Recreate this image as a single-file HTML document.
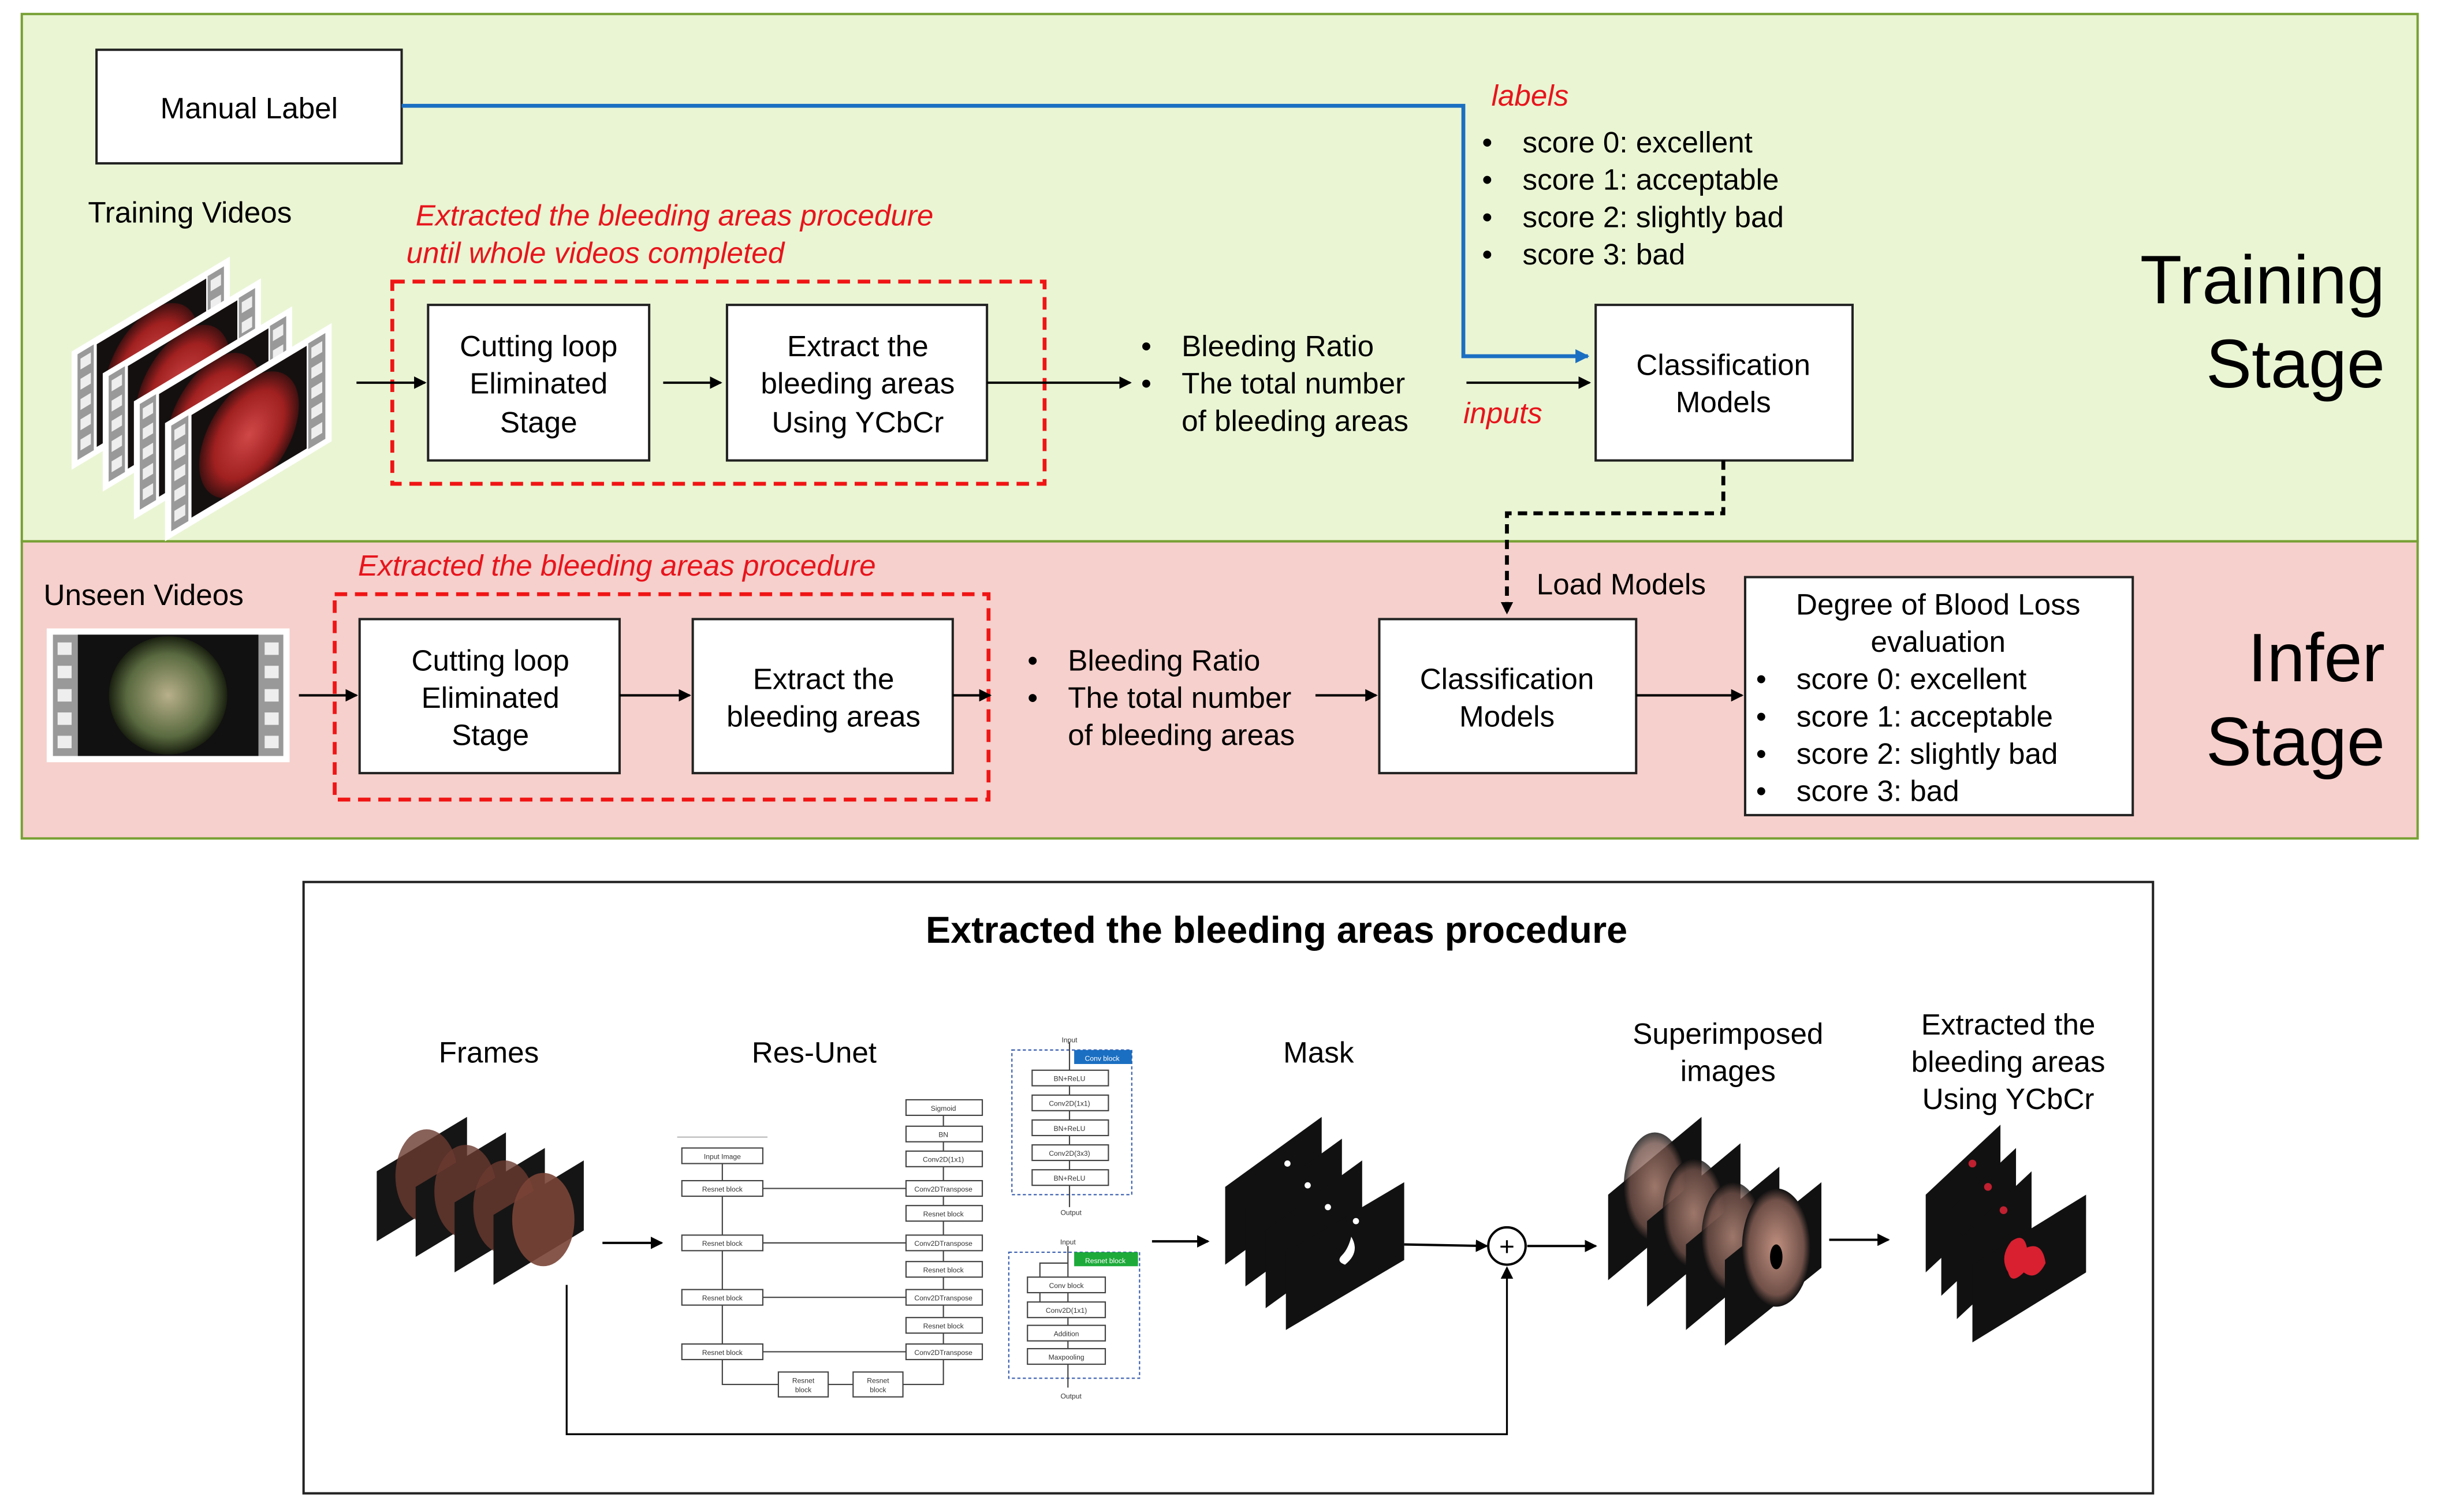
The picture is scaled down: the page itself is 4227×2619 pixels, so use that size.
<!DOCTYPE html>
<html><head><meta charset="utf-8">
<style>
html,body{margin:0;padding:0;background:#fff;}
svg{display:block;}
text{font-family:"Liberation Sans",sans-serif;}
</style></head>
<body>
<svg width="4227" height="2619" viewBox="0 0 1568 972" preserveAspectRatio="none" xmlns="http://www.w3.org/2000/svg">
<defs>
<marker id="ah" markerWidth="8" markerHeight="8" refX="7" refY="4" orient="auto" markerUnits="userSpaceOnUse"><path d="M0,0 L8,4 L0,8 z" fill="#000"/></marker>
<marker id="ahb" markerWidth="9" markerHeight="9" refX="8" refY="4.5" orient="auto" markerUnits="userSpaceOnUse"><path d="M0,0 L9,4.5 L0,9 z" fill="#1a6fc2"/></marker>
<radialGradient id="endo" cx="0.5" cy="0.5" r="0.5"><stop offset="0" stop-color="#d04848"/><stop offset="0.7" stop-color="#a02020"/><stop offset="1" stop-color="#401010"/></radialGradient>
<radialGradient id="endo2" cx="0.5" cy="0.5" r="0.5"><stop offset="0" stop-color="#b8b08a"/><stop offset="0.7" stop-color="#5a6a40"/><stop offset="1" stop-color="#1a2010"/></radialGradient>
<radialGradient id="sup" cx="0.5" cy="0.5" r="0.5"><stop offset="0" stop-color="#c09080"/><stop offset="0.8" stop-color="#705048"/><stop offset="1" stop-color="#111"/></radialGradient>
<clipPath id="vc"><rect x="17" y="5" width="74" height="66"/></clipPath>
<g id="vid">
<rect x="0" y="0" width="107" height="76" fill="#fff"/>
<rect x="4" y="4" width="11" height="68" fill="#999"/>
<rect x="92" y="4" width="11" height="68" fill="#999"/>
<g fill="#eee"><rect x="6" y="8" width="7" height="7"/><rect x="6" y="21" width="7" height="7"/><rect x="6" y="34" width="7" height="7"/><rect x="6" y="47" width="7" height="7"/><rect x="6" y="60" width="7" height="7"/>
<rect x="94" y="8" width="7" height="7"/><rect x="94" y="21" width="7" height="7"/><rect x="94" y="34" width="7" height="7"/><rect x="94" y="47" width="7" height="7"/><rect x="94" y="60" width="7" height="7"/></g>
<rect x="17" y="5" width="74" height="66" fill="#151010"/>
<g clip-path="url(#vc)"><ellipse cx="54" cy="40" rx="32" ry="36" fill="url(#endo)"/></g>
</g>
</defs>

<!-- panels -->
<rect x="14" y="9" width="1539" height="339" fill="#eaf5d4" stroke="#77a033" stroke-width="1.5"/>
<rect x="14" y="348" width="1539" height="191" fill="#f6d0cc" stroke="#77a033" stroke-width="1.5"/>

<!-- Training stage -->
<rect x="62" y="32" width="196" height="73" fill="#fff" stroke="#222" stroke-width="1.5"/>
<text x="160" y="76" font-size="19" text-anchor="middle">Manual Label</text>
<polyline points="258,68 940,68 940,229 1020,229" fill="none" stroke="#1a6fc2" stroke-width="2.5" marker-end="url(#ahb)"/>
<text x="958" y="68" font-size="19" fill="#e8141c" font-style="italic">labels</text>
<g font-size="19">
<text x="952" y="98">•</text><text x="978" y="98">score 0: excellent</text>
<text x="952" y="122">•</text><text x="978" y="122">score 1: acceptable</text>
<text x="952" y="146">•</text><text x="978" y="146">score 2: slightly bad</text>
<text x="952" y="170">•</text><text x="978" y="170">score 3: bad</text>
</g>
<text x="1532" y="195" font-size="44" text-anchor="end">Training</text>
<text x="1532" y="249" font-size="44" text-anchor="end">Stage</text>

<text x="122" y="143" font-size="19" text-anchor="middle">Training Videos</text>
<!-- training video stack -->
<use href="#vid" transform="translate(46,226) skewY(-31) scale(0.95,1)"/>
<use href="#vid" transform="translate(66,240) skewY(-31) scale(0.95,1)"/>
<use href="#vid" transform="translate(86,258) skewY(-31) scale(0.95,1)"/>
<use href="#vid" transform="translate(106,272) skewY(-31)"/>

<text x="267" y="145" font-size="19" fill="#e8141c" font-style="italic">Extracted the bleeding areas procedure</text>
<text x="261" y="169" font-size="19" fill="#e8141c" font-style="italic">until whole videos completed</text>
<rect x="252" y="181" width="419" height="130" fill="none" stroke="#f01515" stroke-width="2.5" stroke-dasharray="8,5"/>
<rect x="275" y="196" width="142" height="100" fill="#fff" stroke="#222" stroke-width="1.5"/>
<g font-size="19" text-anchor="middle"><text x="346" y="229">Cutting loop</text><text x="346" y="253">Eliminated</text><text x="346" y="278">Stage</text></g>
<rect x="467" y="196" width="167" height="100" fill="#fff" stroke="#222" stroke-width="1.5"/>
<g font-size="19" text-anchor="middle"><text x="551" y="229">Extract the</text><text x="551" y="253">bleeding areas</text><text x="551" y="278">Using YCbCr</text></g>
<line x1="229" y1="246" x2="273" y2="246" stroke="#000" stroke-width="1.5" marker-end="url(#ah)"/>
<line x1="426" y1="246" x2="463" y2="246" stroke="#000" stroke-width="1.5" marker-end="url(#ah)"/>
<line x1="634" y1="246" x2="726" y2="246" stroke="#000" stroke-width="1.5" marker-end="url(#ah)"/>
<g font-size="19"><text x="733" y="229">•</text><text x="759" y="229">Bleeding Ratio</text><text x="733" y="253">•</text><text x="759" y="253">The total number</text><text x="759" y="277">of bleeding areas</text></g>
<line x1="942" y1="246" x2="1021" y2="246" stroke="#000" stroke-width="1.5" marker-end="url(#ah)"/>
<text x="940" y="272" font-size="19" fill="#e8141c" font-style="italic">inputs</text>
<rect x="1025" y="196" width="165" height="100" fill="#fff" stroke="#222" stroke-width="1.5"/>
<g font-size="19" text-anchor="middle"><text x="1107" y="241">Classification</text><text x="1107" y="265">Models</text></g>
<polyline points="1107,296 1107,330 968,330 968,394" fill="none" stroke="#000" stroke-width="2.5" stroke-dasharray="6,4" marker-end="url(#ah)"/>

<!-- Infer stage -->
<text x="28" y="389" font-size="19">Unseen Videos</text>
<rect x="30" y="404" width="156" height="86" fill="#fff"/>
<rect x="34" y="408" width="148" height="78" fill="#999"/>
<rect x="50" y="408" width="116" height="78" fill="#111"/>
<g fill="#eee"><rect x="37" y="413" width="9" height="8"/><rect x="37" y="428" width="9" height="8"/><rect x="37" y="443" width="9" height="8"/><rect x="37" y="458" width="9" height="8"/><rect x="37" y="473" width="9" height="8"/><rect x="170" y="413" width="9" height="8"/><rect x="170" y="428" width="9" height="8"/><rect x="170" y="443" width="9" height="8"/><rect x="170" y="458" width="9" height="8"/><rect x="170" y="473" width="9" height="8"/></g>
<circle cx="108" cy="447" r="38" fill="url(#endo2)"/>
<text x="230" y="370" font-size="19" fill="#e8141c" font-style="italic">Extracted the bleeding areas procedure</text>
<rect x="215" y="382" width="420" height="132" fill="none" stroke="#f01515" stroke-width="2.5" stroke-dasharray="8,5"/>
<rect x="231" y="398" width="167" height="99" fill="#fff" stroke="#222" stroke-width="1.5"/>
<g font-size="19" text-anchor="middle"><text x="315" y="431">Cutting loop</text><text x="315" y="455">Eliminated</text><text x="315" y="479">Stage</text></g>
<rect x="445" y="398" width="167" height="99" fill="#fff" stroke="#222" stroke-width="1.5"/>
<g font-size="19" text-anchor="middle"><text x="529" y="443">Extract the</text><text x="529" y="467">bleeding areas</text></g>
<line x1="192" y1="447" x2="229" y2="447" stroke="#000" stroke-width="1.5" marker-end="url(#ah)"/>
<line x1="398" y1="447" x2="443" y2="447" stroke="#000" stroke-width="1.5" marker-end="url(#ah)"/>
<line x1="612" y1="447" x2="636" y2="447" stroke="#000" stroke-width="1.5" marker-end="url(#ah)"/>
<g font-size="19"><text x="660" y="431">•</text><text x="686" y="431">Bleeding Ratio</text><text x="660" y="455">•</text><text x="686" y="455">The total number</text><text x="686" y="479">of bleeding areas</text></g>
<line x1="845" y1="447" x2="884" y2="447" stroke="#000" stroke-width="1.5" marker-end="url(#ah)"/>
<text x="987" y="382" font-size="19">Load Models</text>
<rect x="886" y="398" width="165" height="99" fill="#fff" stroke="#222" stroke-width="1.5"/>
<g font-size="19" text-anchor="middle"><text x="968" y="443">Classification</text><text x="968" y="467">Models</text></g>
<line x1="1051" y1="447" x2="1119" y2="447" stroke="#000" stroke-width="1.5" marker-end="url(#ah)"/>
<rect x="1121" y="371" width="249" height="153" fill="#fff" stroke="#222" stroke-width="1.5"/>
<g font-size="19"><text x="1245" y="395" text-anchor="middle">Degree of Blood Loss</text><text x="1245" y="419" text-anchor="middle">evaluation</text>
<text x="1128" y="443">•</text><text x="1154" y="443">score 0: excellent</text>
<text x="1128" y="467">•</text><text x="1154" y="467">score 1: acceptable</text>
<text x="1128" y="491">•</text><text x="1154" y="491">score 2: slightly bad</text>
<text x="1128" y="515">•</text><text x="1154" y="515">score 3: bad</text></g>
<text x="1532" y="438" font-size="44" text-anchor="end">Infer</text>
<text x="1532" y="492" font-size="44" text-anchor="end">Stage</text>

<!-- Bottom panel -->
<rect x="195" y="567" width="1188" height="393" fill="#fff" stroke="#222" stroke-width="1.5"/>
<text x="820" y="606" font-size="24" font-weight="bold" text-anchor="middle">Extracted the bleeding areas procedure</text>
<g font-size="19" text-anchor="middle">
<text x="314" y="683">Frames</text><text x="523" y="683">Res-Unet</text><text x="847" y="683">Mask</text>
<text x="1110" y="671">Superimposed</text><text x="1110" y="695">images</text>
<text x="1290" y="665">Extracted the</text><text x="1290" y="689">bleeding areas</text><text x="1290" y="713">Using YCbCr</text>
</g>

<!-- Frames stack -->
<g>
<g transform="translate(242,718)"><polygon points="0,35 58,0 58,45 0,80" fill="#151515"/><ellipse cx="32" cy="38" rx="20" ry="30" fill="#6a3a30" opacity="0.8"/></g>
<g transform="translate(267,728)"><polygon points="0,35 58,0 58,45 0,80" fill="#151515"/><ellipse cx="32" cy="38" rx="20" ry="30" fill="#6a3a30" opacity="0.8"/></g>
<g transform="translate(292,738)"><polygon points="0,35 58,0 58,45 0,80" fill="#151515"/><ellipse cx="32" cy="38" rx="20" ry="30" fill="#6a3a30" opacity="0.8"/></g>
<g transform="translate(317,746)"><polygon points="0,35 58,0 58,45 0,80" fill="#151515"/><ellipse cx="32" cy="38" rx="20" ry="30" fill="#7a4436" opacity="0.9"/></g>
</g>
<line x1="387" y1="799" x2="425" y2="799" stroke="#000" stroke-width="1.5" marker-end="url(#ah)"/>

<!-- Res-Unet mini -->
<g stroke="#444" stroke-width="0.8" fill="#fff" font-size="4.5">
<line x1="435" y1="731" x2="493" y2="731" stroke="#bbb"/>
<line x1="464" y1="748" x2="464" y2="869"/>
<line x1="490" y1="764" x2="582" y2="764"/><line x1="490" y1="799" x2="582" y2="799"/><line x1="490" y1="834" x2="582" y2="834"/><line x1="490" y1="869" x2="582" y2="869"/>
<polyline points="464,874 464,890 500,890" fill="none"/><line x1="532" y1="890" x2="548" y2="890"/><polyline points="580,890 606,890 606,874" fill="none"/>
<line x1="606" y1="707" x2="606" y2="874"/>
<rect x="438" y="738" width="52" height="10"/><rect x="438" y="759" width="52" height="10"/><rect x="438" y="794" width="52" height="10"/><rect x="438" y="829" width="52" height="10"/><rect x="438" y="864" width="52" height="10"/>
<rect x="500" y="882" width="32" height="16"/><rect x="548" y="882" width="32" height="16"/>
<rect x="582" y="707" width="49" height="10"/><rect x="582" y="724" width="49" height="10"/><rect x="582" y="740" width="49" height="10"/><rect x="582" y="759" width="49" height="10"/><rect x="582" y="775" width="49" height="10"/><rect x="582" y="794" width="49" height="10"/><rect x="582" y="811" width="49" height="10"/><rect x="582" y="829" width="49" height="10"/><rect x="582" y="847" width="49" height="10"/><rect x="582" y="864" width="49" height="10"/>
<rect x="650" y="675" width="77" height="93" fill="none" stroke="#3a5fb0" stroke-dasharray="2,1.5"/>
<line x1="687" y1="670" x2="687" y2="776"/>
<rect x="663" y="688" width="49" height="10"/><rect x="663" y="704" width="49" height="10"/><rect x="663" y="720" width="49" height="10"/><rect x="663" y="736" width="49" height="10"/><rect x="663" y="752" width="49" height="10"/>
<rect x="690" y="675" width="37" height="9" fill="#1a6fc2" stroke="none"/>
<rect x="648" y="805" width="84" height="81" fill="none" stroke="#3a5fb0" stroke-dasharray="2,1.5"/>
<line x1="686" y1="801" x2="686" y2="892"/><polyline points="686,812 668,812 668,842 660,842" fill="none"/>
<rect x="660" y="821" width="50" height="10"/><rect x="660" y="837" width="50" height="10"/><rect x="660" y="852" width="50" height="10"/><rect x="660" y="867" width="50" height="10"/>
<rect x="690" y="805" width="41" height="9" fill="#1daa3a" stroke="none"/>
</g>
<g font-size="4.5" text-anchor="middle" fill="#333">
<text x="464" y="745">Input Image</text><text x="464" y="766">Resnet block</text><text x="464" y="801">Resnet block</text><text x="464" y="836">Resnet block</text><text x="464" y="871">Resnet block</text>
<text x="516" y="889">Resnet</text><text x="516" y="895">block</text><text x="564" y="889">Resnet</text><text x="564" y="895">block</text>
<text x="606" y="714">Sigmoid</text><text x="606" y="731">BN</text><text x="606" y="747">Conv2D(1x1)</text><text x="606" y="766">Conv2DTranspose</text><text x="606" y="782">Resnet block</text><text x="606" y="801">Conv2DTranspose</text><text x="606" y="818">Resnet block</text><text x="606" y="836">Conv2DTranspose</text><text x="606" y="854">Resnet block</text><text x="606" y="871">Conv2DTranspose</text>
<text x="687" y="670">Input</text><text x="688" y="781">Output</text>
<text x="687" y="695">BN+ReLU</text><text x="687" y="711">Conv2D(1x1)</text><text x="687" y="727">BN+ReLU</text><text x="687" y="743">Conv2D(3x3)</text><text x="687" y="759">BN+ReLU</text>
<text x="708" y="682" fill="#fff">Conv block</text>
<text x="686" y="800">Input</text><text x="688" y="899">Output</text>
<text x="685" y="828">Conv block</text><text x="685" y="844">Conv2D(1x1)</text><text x="685" y="859">Addition</text><text x="685" y="874">Maxpooling</text>
<text x="710" y="812" fill="#fff">Resnet block</text>
</g>
<line x1="740" y1="798" x2="776" y2="798" stroke="#000" stroke-width="1.5" marker-end="url(#ah)"/>

<!-- Mask stack -->
<g>
<g transform="translate(787,718)"><polygon points="0,45 62,0 62,50 0,95" fill="#111"/><circle cx="40" cy="30" r="2" fill="#fff"/></g>
<g transform="translate(800,732)"><polygon points="0,45 62,0 62,50 0,95" fill="#111"/><circle cx="40" cy="30" r="2" fill="#fff"/></g>
<g transform="translate(813,746)"><polygon points="0,45 62,0 62,50 0,95" fill="#111"/><circle cx="40" cy="30" r="2" fill="#fff"/></g>
<g transform="translate(826,760)"><polygon points="0,45 76,0 76,50 0,95" fill="#111"/><circle cx="45" cy="25" r="2" fill="#fff"/><path d="M42,35 q6,10 -4,18 q-6,-2 -2,-6 q4,-4 6,-12z" fill="#fff"/></g>
</g>
<line x1="902" y1="800" x2="955" y2="801" stroke="#000" stroke-width="1.5" marker-end="url(#ah)"/>
<circle cx="968" cy="801" r="12" fill="#fff" stroke="#000" stroke-width="1.5"/>
<text x="968" y="807" font-size="17" text-anchor="middle">+</text>
<polyline points="364,826 364,922 968,922 968,815" fill="none" stroke="#000" stroke-width="1.2" marker-end="url(#ah)"/>
<line x1="981" y1="801" x2="1025" y2="801" stroke="#000" stroke-width="1.5" marker-end="url(#ah)"/>

<!-- Superimposed stack -->
<g>
<g transform="translate(1033,718)"><polygon points="0,50 60,0 60,55 0,105" fill="#111"/><ellipse cx="30" cy="45" rx="20" ry="35" fill="url(#sup)" opacity="0.8"/></g>
<g transform="translate(1058,735)"><polygon points="0,50 60,0 60,55 0,105" fill="#111"/><ellipse cx="30" cy="45" rx="20" ry="35" fill="url(#sup)" opacity="0.8"/></g>
<g transform="translate(1083,750)"><polygon points="0,50 60,0 60,55 0,105" fill="#111"/><ellipse cx="30" cy="45" rx="20" ry="35" fill="url(#sup)" opacity="0.8"/></g>
<g transform="translate(1108,760)"><polygon points="0,50 62,0 62,55 0,105" fill="#111"/><ellipse cx="33" cy="42" rx="22" ry="38" fill="url(#sup)"/><ellipse cx="33" cy="48" rx="4" ry="8" fill="#000"/></g>
</g>
<line x1="1175" y1="797" x2="1213" y2="797" stroke="#000" stroke-width="1.5" marker-end="url(#ah)"/>

<!-- Extracted stack -->
<g>
<g transform="translate(1237,723)"><polygon points="0,45 48,0 48,50 0,95" fill="#111"/><circle cx="30" cy="25" r="2.5" fill="#c02030"/></g>
<g transform="translate(1247,738)"><polygon points="0,45 48,0 48,50 0,95" fill="#111"/><circle cx="30" cy="25" r="2.5" fill="#c02030"/></g>
<g transform="translate(1257,753)"><polygon points="0,45 48,0 48,50 0,95" fill="#111"/><circle cx="30" cy="25" r="2.5" fill="#c02030"/></g>
<g transform="translate(1267,768)"><polygon points="0,45 73,0 73,50 0,95" fill="#111"/><path d="M25,30 q8,-6 10,4 q10,-4 12,10 q-6,12 -14,6 q-8,8 -10,0 q-6,-10 2,-20z" fill="#d82030"/></g>
</g>
</svg>
</body></html>
